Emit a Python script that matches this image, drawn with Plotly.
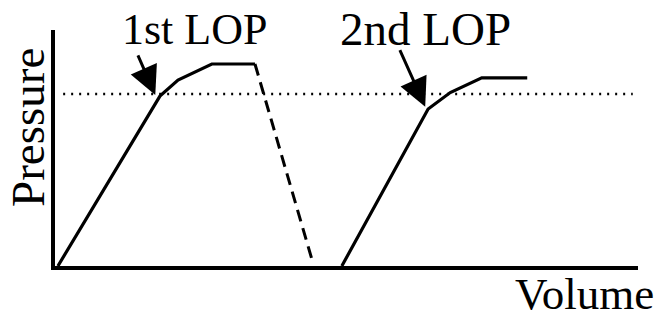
import plotly.graph_objects as go

# Data (arbitrary units, 0-100 on both axes)
curve1_x = [0.5, 18.0, 21.1, 26.9, 34.3]
curve1_y = [0.0, 72.0, 78.8, 85.6, 85.6]
dash_x = [34.3, 44.3]
dash_y = [85.6, 0.8]
curve2_x = [49.2, 64.0, 67.8, 73.2, 81.0]
curve2_y = [0.0, 66.5, 73.5, 79.7, 79.7]
lop_level = 72.9
dotted_x = [1.4, 99.1]
labels = ["1st LOP", "2nd LOP"]
lop_points_x = [17.2, 63.5]
lop_points_y = [72.5, 67.5]

FONT = "Times New Roman, Liberation Serif, DejaVu Serif, serif"

fig = go.Figure()
fig.add_trace(go.Scatter(x=dotted_x, y=[lop_level, lop_level], mode="lines",
                         line=dict(color="black", width=2.5, dash="2px,6px"), hoverinfo="skip"))
fig.add_trace(go.Scatter(x=curve1_x, y=curve1_y, mode="lines",
                         line=dict(color="black", width=3.2), hoverinfo="skip"))
fig.add_trace(go.Scatter(x=dash_x, y=dash_y, mode="lines",
                         line=dict(color="black", width=3, dash="12px,7px"), hoverinfo="skip"))
fig.add_trace(go.Scatter(x=curve2_x, y=curve2_y, mode="lines",
                         line=dict(color="black", width=3.2), hoverinfo="skip"))

# arrows
fig.add_annotation(x=lop_points_x[0], y=lop_points_y[0], xref="x", yref="y",
                   ax=-18, ay=-41, text="", showarrow=True, arrowhead=2,
                   arrowsize=1.9, arrowwidth=3, arrowcolor="black")
fig.add_annotation(x=lop_points_x[1], y=lop_points_y[1], xref="x", yref="y",
                   ax=-26, ay=-58, text="", showarrow=True, arrowhead=2,
                   arrowsize=1.9, arrowwidth=3, arrowcolor="black")

# labels
fig.add_annotation(x=(194 - 55) / 583, y=(266 - 29) / 236, xref="paper", yref="paper",
                   text=labels[0], showarrow=False, font=dict(family=FONT, size=44, color="black"),
                   xanchor="center", yanchor="middle")
fig.add_annotation(x=(425 - 55) / 583, y=(266 - 29) / 236, xref="paper", yref="paper",
                   text=labels[1], showarrow=False, font=dict(family=FONT, size=47, color="black"),
                   xanchor="center", yanchor="middle")
fig.add_annotation(x=(584 - 55) / 583, y=(266 - 294) / 236, xref="paper", yref="paper",
                   text="Volume", showarrow=False, font=dict(family=FONT, size=45, color="black"),
                   xanchor="center", yanchor="middle")
fig.add_annotation(x=(28 - 55) / 583, y=(266 - 128) / 236, xref="paper", yref="paper",
                   text="Pressure", showarrow=False, textangle=-90,
                   font=dict(family=FONT, size=47, color="black"),
                   xanchor="center", yanchor="middle")

fig.update_xaxes(range=[0, 100], showline=True, linewidth=4, linecolor="black",
                 showgrid=False, zeroline=False, showticklabels=False, ticks="")
fig.update_yaxes(range=[0, 100], showline=True, linewidth=4, linecolor="black",
                 showgrid=False, zeroline=False, showticklabels=False, ticks="")
fig.update_layout(width=665, height=320, margin=dict(l=55, r=27, t=30, b=54),
                  font=dict(family=FONT, color="black"),
                  plot_bgcolor="white", paper_bgcolor="white", showlegend=False)

fig.write_html("out.html", config={"displayModeBar": False},
               post_script="document.body.style.margin='0';")
